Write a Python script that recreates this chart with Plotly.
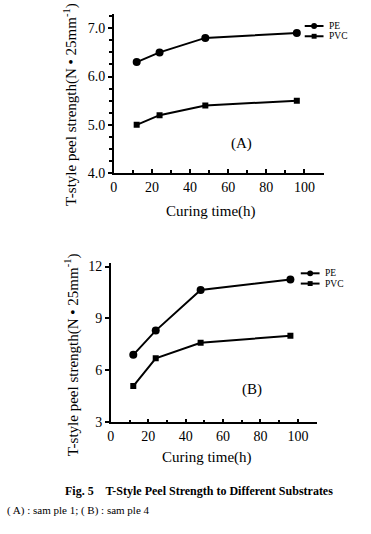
import plotly.graph_objects as go

# ---- data ----
curing_time = [12, 24, 48, 96]
series_names = ["PE", "PVC"]
a_pe = [6.3, 6.5, 6.8, 6.9]
a_pvc = [5.0, 5.2, 5.4, 5.5]
b_pe = [6.9, 8.3, 10.65, 11.25]
b_pvc = [5.1, 6.7, 7.6, 8.0]
a_yticks = [4.0, 5.0, 6.0, 7.0]
b_yticks = [3, 6, 9, 12]
x_ticks = [0, 20, 40, 60, 80, 100]

W, H = 371, 534
FONT = "Liberation Serif"


def px(x):
    return x / W


def py(y):
    return 1 - y / H


fig = go.Figure()

line_style = dict(color="black", width=2)
sym = {"PE": dict(symbol="circle", size=8, color="black"),
       "PVC": dict(symbol="square", size=6, color="black")}

for name, vals in zip(series_names, [a_pe, a_pvc]):
    fig.add_trace(go.Scatter(x=curing_time, y=vals, mode="lines+markers", name=name,
                             line=line_style, marker=sym[name], xaxis="x", yaxis="y",
                             showlegend=False))
for name, vals in zip(series_names, [b_pe, b_pvc]):
    fig.add_trace(go.Scatter(x=curing_time, y=vals, mode="lines+markers", name=name,
                             line=line_style, marker=sym[name], xaxis="x2", yaxis="y2",
                             showlegend=False))

tickfont = dict(family=FONT, size=14, color="black")
common_x = dict(range=[0, 110], tickvals=x_ticks, ticks="inside", ticklen=4, tickwidth=1.5,
                showline=True, linecolor="black", linewidth=1.5, showgrid=False, zeroline=False,
                tickfont=tickfont, minor=dict(dtick=10, tick0=0, ticks="inside", ticklen=3,
                                              tickwidth=1.5, tickcolor="black"),
                tickcolor="black")
common_y = dict(ticks="outside", ticklen=4, tickwidth=1.5, tickcolor="black",
                showline=True, linecolor="black", linewidth=1.5, showgrid=False,
                zeroline=False, tickfont=tickfont)

fig.update_layout(
    width=W, height=H,
    margin=dict(l=0, r=0, t=0, b=0),
    paper_bgcolor="white", plot_bgcolor="white",
    font=dict(family=FONT, color="black"),
    xaxis=dict(domain=[px(111), px(323)], anchor="y", **common_x),
    yaxis=dict(domain=[py(173), py(10)], anchor="x", range=[4.0, 7.3], tickvals=a_yticks,
               tickformat=".1f",
               minor=dict(dtick=0.25, tick0=4, ticks="outside", ticklen=3, tickwidth=1.5,
                          tickcolor="black"),
               **common_y),
    xaxis2=dict(domain=[px(108), px(316)], anchor="y2", **common_x),
    yaxis2=dict(domain=[py(428), py(265)], anchor="x2", range=[3, 12.2], tickvals=b_yticks,
                **common_y),
)

ytitle = "T-style peel strength(N • 25mm<sup>-1</sup>)"
anns = [
    dict(text=ytitle, x=px(67), y=py(103), textangle=-90, size=15),
    dict(text=ytitle, x=px(69), y=py(359), textangle=-90, size=15),
    dict(text="Curing time(h)", x=px(209), y=py(212), size=15),
    dict(text="Curing time(h)", x=px(205), y=py(464), size=15),
    dict(text="(A)", x=px(240), y=py(143), size=15),
    dict(text="(B)", x=px(251), y=py(394), size=15),
    dict(text="<b>Fig. 5    T-Style Peel Strength to Different Substrates</b>",
         x=px(197), y=py(498), size=12),
    dict(text="( A) : sam ple 1; ( B) : sam ple 4", x=px(1), y=py(518), xanchor="left",
         size=11),
]
for a in anns:
    a.setdefault("xanchor", "center")
    size = a.pop("size")
    fig.add_annotation(xref="paper", yref="paper", yanchor="middle", showarrow=False,
                       font=dict(family=FONT, color="black", size=size), **a)

# manual legends (line segment + marker + label)
legend_pos = [(304, 323, 327, [22.5, 33]), (300, 319, 322, [275.5, 286])]
for x0, x1, xt, ys in legend_pos:
    for name, yy in zip(series_names, ys):
        fig.add_shape(type="line", xref="paper", yref="paper", x0=px(x0), x1=px(x1),
                      y0=py(yy), y1=py(yy), line=dict(color="black", width=2))
        cx = (x0 + x1) / 2
        r = 3 if name == "PE" else 2.5
        fig.add_shape(type="circle" if name == "PE" else "rect", xref="paper", yref="paper",
                      x0=px(cx - r), x1=px(cx + r), y0=py(yy - r), y1=py(yy + r),
                      fillcolor="black", line=dict(color="black", width=0))
        fig.add_annotation(text=name, xref="paper", yref="paper", x=px(xt), y=py(yy),
                           xanchor="left", yanchor="middle", showarrow=False,
                           font=dict(family=FONT, size=9.5, color="black"))

fig.write_html("out.html", config={"displayModeBar": False},
               post_script="document.body.style.margin='0';document.body.style.overflow='hidden';")
